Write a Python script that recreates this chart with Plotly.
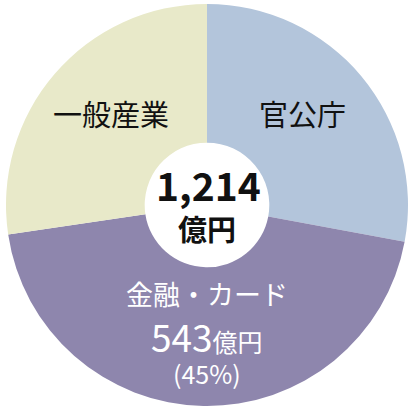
import plotly.graph_objects as go

# Sales by segment (億円)
segments = ['官公庁', '金融・カード', '一般産業']
sales = [339, 543, 332]
colors = ['#b3c5db', '#8e86ad', '#e8e9c9']
unit = '億円'

total = sum(sales)
W = H = 411
FONT = 'Noto Sans CJK JP, Noto Sans, sans-serif'


def px(x, y):
    # pixel position -> paper coords
    return x / W, 1 - y / H


fig = go.Figure(go.Pie(
    labels=segments,
    values=sales,
    sort=False,
    direction='clockwise',
    rotation=0,
    hole=0.31,
    marker=dict(colors=colors, line=dict(width=0)),
    textinfo='none',
    hoverinfo='label+value+percent',
    domain=dict(x=[6 / W, 408 / W], y=[5 / H, 407 / H]),
    showlegend=False,
))

notes = []


def note(text, x, y, size, color='#111111'):
    ax, ay = px(x, y)
    notes.append(dict(text=text, x=ax, y=ay, xref='paper', yref='paper',
                      showarrow=False, xanchor='center', yanchor='middle',
                      font=dict(family=FONT, size=size, color=color)))


# centre total
note('<b>{:,}</b>'.format(total), 208, 184, 39)
note('<b>' + unit + '</b>', 207, 228, 29)

# slice labels
note(segments[0], 302, 113, 29)
note(segments[2], 111, 113, 29)

big = segments[1]
i = segments.index(big)
pct = round(sales[i] / total * 100)
note(big, 207, 293, 27, 'white')
note('{}<span style="font-size:25px">{}</span>'.format(sales[i], unit), 207, 336, 37, 'white')
note('({}%)'.format(pct), 207, 373, 25, 'white')

fig.update_layout(
    width=W, height=H,
    margin=dict(l=0, r=0, t=0, b=0),
    paper_bgcolor='white',
    plot_bgcolor='white',
    annotations=notes,
)

# drop the page's default body margin so the figure sits at the corner
fig.write_html('out.html', config={'displayModeBar': False},
               post_script="document.body.style.margin='0';")
print('out.html created!')
